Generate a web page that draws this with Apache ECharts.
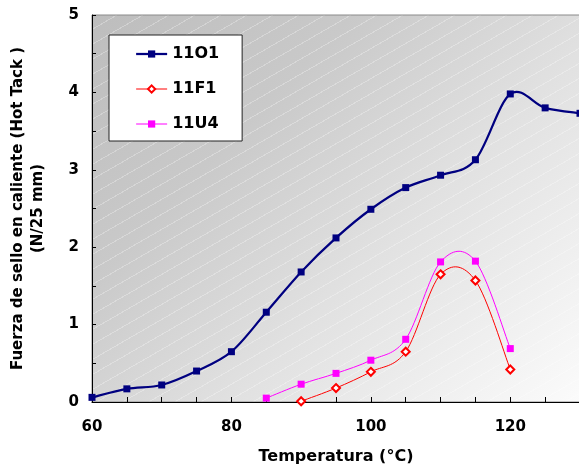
<!DOCTYPE html>
<html>
<head>
<meta charset="utf-8">
<script src="https://cdn.jsdelivr.net/npm/echarts@6/dist/echarts.min.js"></script>
<style>
  html, body { margin: 0; padding: 0; background: #ffffff; }
  #wrap { position: relative; width: 579px; height: 465px; overflow: hidden; }
  #bg {
    position: absolute; left: 92px; top: 15px; width: 488px; height: 387px;
    background:
      repeating-linear-gradient(150deg, rgba(255,255,255,0) 0px, rgba(255,255,255,0) 12px, rgba(255,255,255,0.28) 12px, rgba(255,255,255,0.28) 13px),
      linear-gradient(135deg, #bdbdbd 0%, #c9c9c9 30%, #e1e1e1 60%, #fbfbfb 100%);
  }
  #chart { position: absolute; left: 0; top: 0; width: 579px; height: 465px; }
</style>
</head>
<body>
<div id="wrap">
  <div id="bg"></div>
  <div id="chart"></div>
</div>
<script>
// ---- data ----
const seriesNames = ['11O1', '11F1', '11U4'];
const x11O1 = [60, 65, 70, 75, 80, 85, 90, 95, 100, 105, 110, 115, 120, 125, 130];
const y11O1 = [0.06, 0.17, 0.22, 0.40, 0.65, 1.16, 1.68, 2.12, 2.49, 2.77, 2.93, 3.13, 3.98, 3.80, 3.73];
const x11F1 = [90, 95, 100, 105, 110, 115, 120];
const y11F1 = [0.01, 0.18, 0.39, 0.65, 1.65, 1.57, 0.42];
const x11U4 = [85, 90, 95, 100, 105, 110, 115, 120];
const y11U4 = [0.05, 0.23, 0.37, 0.54, 0.81, 1.81, 1.82, 0.69];
const xTickLabels = [60, 80, 100, 120];
const yTickLabels = [0, 1, 2, 3, 4, 5];
const xAxisTitle = 'Temperatura (°C)';
const yAxisTitle = 'Fuerza de sello en caliente (Hot Tack )\n(N/25 mm)';

const colors = ['#000080', '#ff0000', '#ff00ff'];
const widths = [2.25, 1, 1];

function pairs(xs, ys) { return xs.map((x, i) => [x, ys[i]]); }

// Smoothed curve (Excel-like cardinal spline) drawn through the chart's own coordinate system
function curveSeries(idx, xs, ys) {
  const n = xs.length;
  return {
    type: 'custom',
    name: seriesNames[idx] + ' curve',
    z: 2,
    silent: true,
    data: pairs(xs, ys),
    encode: { x: 0, y: 1 },
    renderItem: function (params, api) {
      const i = params.dataIndex;
      if (i >= n - 1) return null;
      const c = k => { k = Math.max(0, Math.min(n - 1, k)); return api.coord([xs[k], ys[k]]); };
      const p0 = c(i - 1), p1 = c(i), p2 = c(i + 1), p3 = c(i + 2);
      const cp1 = [p1[0] + (p2[0] - p0[0]) / 6, p1[1] + (p2[1] - p0[1]) / 6];
      const cp2 = [p2[0] - (p3[0] - p1[0]) / 6, p2[1] - (p3[1] - p1[1]) / 6];
      return {
        type: 'bezierCurve',
        shape: { x1: p1[0], y1: p1[1], cpx1: cp1[0], cpy1: cp1[1], cpx2: cp2[0], cpy2: cp2[1], x2: p2[0], y2: p2[1] },
        style: { stroke: colors[idx], lineWidth: widths[idx], fill: null, lineCap: 'round' }
      };
    }
  };
}

const FONT = '"DejaVu Sans", Verdana, sans-serif';
const chart = echarts.init(document.getElementById('chart'), null, { renderer: 'canvas' });

chart.setOption({
  backgroundColor: 'transparent',
  animation: false,
  textStyle: { fontFamily: FONT },
  grid: {
    left: 92, top: 15, width: 488, height: 387,
    containLabel: false,
    outerBoundsMode: 'none',
    show: true, borderColor: '#8a8a8a', borderWidth: 1, backgroundColor: 'transparent'
  },
  legend: {
    orient: 'vertical',
    left: 109, top: 35,
    padding: [11, 23, 9, 26],
    itemGap: 19,
    itemWidth: 31, itemHeight: 9,
    backgroundColor: '#ffffff',
    borderColor: '#222222', borderWidth: 1,
    textStyle: { fontFamily: FONT, fontSize: 16, fontWeight: 'bold', color: '#000000' },
    data: seriesNames.map((nm, i) => ({
      name: nm,
      lineStyle: { color: colors[i], width: widths[i], opacity: 1 }
    }))
  },
  xAxis: {
    type: 'value', min: 60, max: 130, interval: 5,
    name: xAxisTitle, nameLocation: 'middle', nameGap: 47,
    nameTextStyle: { fontFamily: FONT, fontSize: 16, fontWeight: 'bold', color: '#000' },
    axisLine: { show: true, lineStyle: { color: '#000', width: 1 } },
    axisTick: { show: true, inside: true, length: 5, lineStyle: { color: '#000' } },
    axisLabel: {
      interval: 0, margin: 18, fontFamily: FONT, fontSize: 15, fontWeight: 'bold', color: '#000',
      formatter: v => (xTickLabels.indexOf(v) >= 0 ? String(v) : '')
    },
    splitLine: { show: false }
  },
  yAxis: {
    type: 'value', min: 0, max: 5, interval: 0.5,
    name: yAxisTitle, nameLocation: 'middle', nameGap: 44, nameRotate: 90,
    nameTextStyle: { fontFamily: FONT, fontSize: 15, fontWeight: 'bold', color: '#000', lineHeight: 20, align: 'center' },
    axisLine: { show: true, lineStyle: { color: '#000', width: 1 } },
    axisTick: { show: true, inside: true, length: 4, lineStyle: { color: '#000' } },
    axisLabel: {
      interval: 0, margin: 13, fontFamily: FONT, fontSize: 15, fontWeight: 'bold', color: '#000',
      formatter: v => (yTickLabels.indexOf(v) >= 0 ? String(v) : '')
    },
    splitLine: { show: false }
  },
  series: [
    curveSeries(0, x11O1, y11O1),
    curveSeries(1, x11F1, y11F1),
    curveSeries(2, x11U4, y11U4),
    {
      name: seriesNames[0], type: 'line', z: 3,
      data: pairs(x11O1, y11O1),
      symbol: 'rect', symbolSize: 7,
      lineStyle: { color: colors[0], width: widths[0], opacity: 0 },
      itemStyle: { color: colors[0] }
    },
    {
      name: seriesNames[1], type: 'line', z: 3,
      data: pairs(x11F1, y11F1),
      symbol: 'emptyDiamond', symbolSize: 8,
      lineStyle: { color: colors[1], width: widths[1], opacity: 0 },
      itemStyle: { color: colors[1], borderWidth: 1 }
    },
    {
      name: seriesNames[2], type: 'line', z: 3,
      data: pairs(x11U4, y11U4),
      symbol: 'rect', symbolSize: 7,
      lineStyle: { color: colors[2], width: widths[2], opacity: 0 },
      itemStyle: { color: colors[2] }
    }
  ]
});
</script>
</body>
</html>
